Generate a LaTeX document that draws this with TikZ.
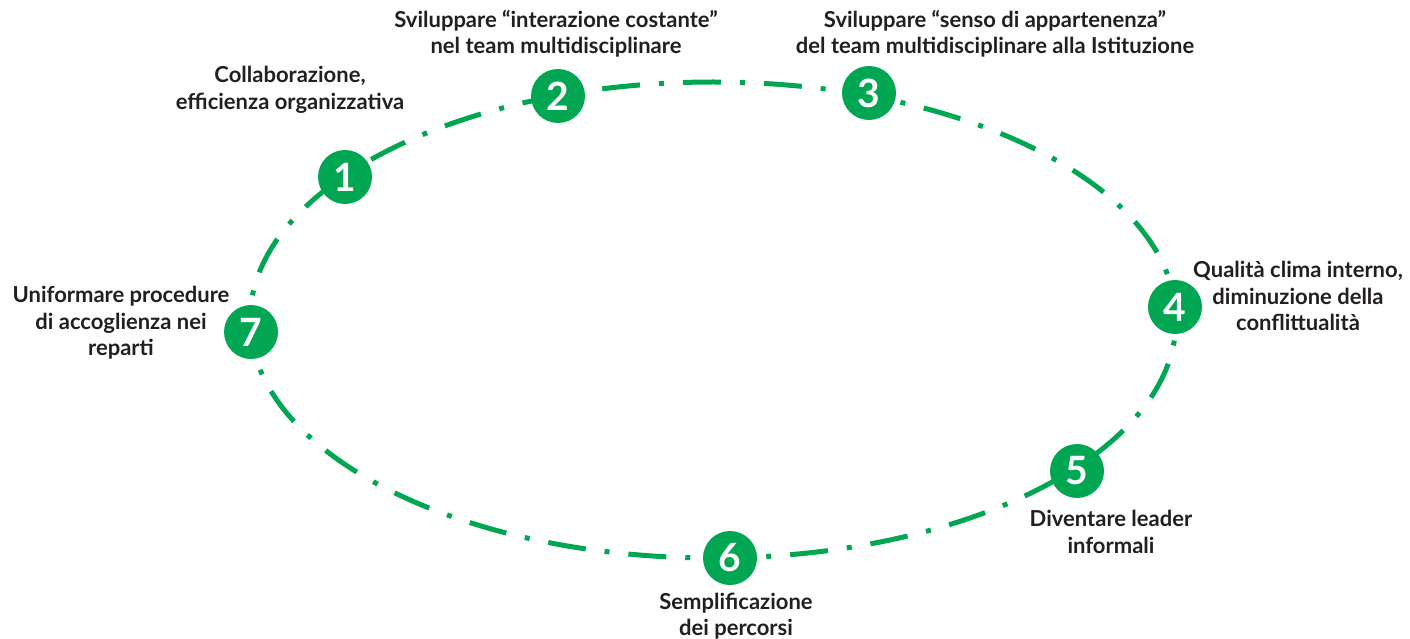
\documentclass[tikz,border=0pt]{standalone}
\usepackage{fontspec}
\setmainfont{Lato}
\usetikzlibrary{positioning}
\definecolor{ringgreen}{HTML}{00A651}
\definecolor{labeltext}{HTML}{231F20}
\tikzset{
  ring/.style={draw=ringgreen, line width=5pt, line cap=butt,
    dash pattern=on 38pt off 19pt on 5pt off 19pt, dash phase=10pt},
  badge/.style={circle, fill=ringgreen, minimum size=54pt, inner sep=0pt,
    text=white, font=\bfseries\fontsize{39}{39}\selectfont},
  caption/.style={align=center, text=labeltext, inner sep=0pt,
    font=\bfseries\fontsize{22}{26.5}\selectfont}
}
\begin{document}
\begin{tikzpicture}[x=1pt, y=-1pt]
\useasboundingbox (0,0) rectangle (1410,639);

% dash-dot ring
\coordinate (centre) at (713,320);
\draw[ring] (centre) ellipse [x radius=463pt, y radius=238pt];

% numbered badges on the ring
\node[badge] (n1) at (345,177) {1};
\node[badge] (n2) at (558,96) {2};
\node[badge] (n3) at (869,93) {3};
\node[badge] (n4) at (1175,307) {4};
\node[badge] (n5) at (1077,471) {5};
\node[badge] (n6) at (730,558) {6};
\node[badge] (n7) at (251,332) {7};

% captions
\node[caption] (t1) at (290,90) {Collaborazione,\\efficienza organizzativa};
\node[caption] (t2) at (556,34) {Sviluppare “interazione costante”\\nel team multidisciplinare};
\node[caption] (t3) at (995,34) {Sviluppare “senso di appartenenza”\\del team multidisciplinare alla Istituzione};
\node[caption] (t4) at (1298,296) {Qualità clima interno,\\diminuzione della\\conflittualità};
\node[caption] (t5) at (1111,532) {Diventare leader\\informali};
\node[caption] (t6) at (736,616) {Semplificazione\\dei percorsi};
\node[caption] (t7) at (121,323) {Uniformare procedure\\di accoglienza nei\\reparti};
\end{tikzpicture}
\end{document}
